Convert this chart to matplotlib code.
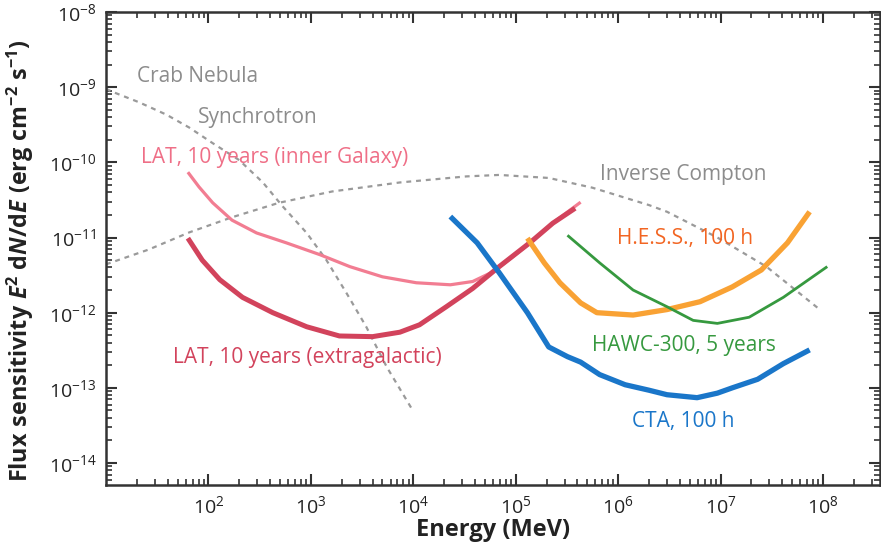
import matplotlib
matplotlib.use("Agg")
import matplotlib.pyplot as plt
from matplotlib.ticker import LogLocator, NullFormatter

plt.rcParams["font.family"] = ["Open Sans", "DejaVu Sans"]
plt.rcParams["mathtext.fontset"] = "custom"
plt.rcParams["mathtext.rm"] = "Open Sans"
plt.rcParams["mathtext.it"] = "Open Sans:italic"
plt.rcParams["mathtext.bf"] = "Open Sans:bold"
plt.rcParams["mathtext.bfit"] = "Open Sans:italic:bold"

# energies in MeV, flux sensitivity in erg cm^-2 s^-1
sync_e = [10, 11.5, 21, 39, 65, 110, 200, 340, 530, 910, 1420, 2240, 3470, 5500, 9800]
sync_f = [9.5e-10, 8.7e-10, 6.3e-10, 4.3e-10, 2.9e-10, 1.8e-10, 1.07e-10, 5.4e-11, 2.6e-11,
          1.15e-11, 5.0e-12, 1.8e-12, 6.5e-13, 1.9e-13, 5.1e-14]

ic_e = [10, 26, 65, 170, 490, 1620, 7400, 3.3e4, 6.9e4, 2.1e5, 5.6e5, 2.0e6, 3.0e6, 9.3e6,
        2.8e7, 9.3e7]
ic_f = [4.4e-12, 6.9e-12, 1.17e-11, 1.86e-11, 2.9e-11, 4.1e-11, 5.4e-11, 6.5e-11, 6.8e-11,
        6.2e-11, 4.6e-11, 2.7e-11, 2.2e-11, 1.0e-11, 4.1e-12, 1.1e-12]

lat_gal_e = [63, 81, 110, 170, 295, 575, 1230, 2400, 5000, 1.07e4, 2.3e4, 3.8e4, 6.0e4,
             9.3e4, 1.5e5, 2.5e5, 4.3e5]
lat_gal_f = [7.4e-11, 4.7e-11, 2.9e-11, 1.7e-11, 1.15e-11, 8.5e-12, 5.9e-12, 4.1e-12, 3.0e-12,
             2.5e-12, 2.35e-12, 2.6e-12, 3.5e-12, 5.5e-12, 9.3e-12, 1.7e-11, 2.95e-11]

lat_xgal_e = [63, 87, 129, 215, 425, 910, 1900, 4000, 7400, 1.15e4, 2.1e4, 3.8e4, 6.9e4,
              1.4e5, 2.3e5, 3.8e5]
lat_xgal_f = [9.8e-12, 5.0e-12, 2.75e-12, 1.6e-12, 1.0e-12, 6.5e-13, 4.9e-13, 4.8e-13, 5.5e-13,
              6.9e-13, 1.2e-12, 2.1e-12, 4.1e-12, 8.7e-12, 1.55e-11, 2.45e-11]

cta_e = [2.3e4, 4.2e4, 6.9e4, 1.3e5, 2.1e5, 3.2e5, 4.3e5, 6.6e5, 1.17e6, 2.0e6, 3.0e6, 5.9e6,
         9.3e6, 1.3e7, 2.3e7, 4.1e7, 7.4e7]
cta_f = [1.9e-11, 8.5e-12, 3.4e-12, 1.0e-12, 3.5e-13, 2.6e-13, 2.2e-13, 1.5e-13, 1.1e-13,
         9.3e-14, 8.1e-14, 7.4e-14, 8.5e-14, 1.0e-13, 1.3e-13, 2.1e-13, 3.2e-13]

hess_e = [1.3e5, 1.9e5, 2.7e5, 4.3e5, 6.2e5, 1.4e6, 3.0e6, 6.3e6, 1.3e7, 2.5e7, 4.5e7, 7.4e7]
hess_f = [9.8e-12, 4.6e-12, 2.5e-12, 1.35e-12, 1.0e-12, 9.3e-13, 1.1e-12, 1.4e-12, 2.2e-12,
          3.7e-12, 8.5e-12, 2.2e-11]

hawc_e = [3.2e5, 6.6e5, 1.4e6, 3.0e6, 5.4e6, 9.3e6, 1.9e7, 4.1e7, 1.1e8]
hawc_f = [1.07e-11, 4.6e-12, 2.0e-12, 1.2e-12, 7.9e-13, 7.2e-13, 8.7e-13, 1.6e-12, 4.1e-12]

gray = "#9a9a9a"
fig = plt.figure(figsize=(8.81, 5.48), dpi=100)
ax = fig.add_axes([106 / 881, 1 - 485 / 548, 774 / 881, 473 / 548])

dash = dict(color=gray, lw=1.6, ls=(0, (2.2, 2.2)))
ax.plot(sync_e, sync_f, **dash)
ax.plot(ic_e, ic_f, **dash)

ax.plot(lat_gal_e, lat_gal_f, color="#f27d92", lw=2.3, solid_capstyle="butt")
ax.plot(lat_xgal_e, lat_xgal_f, color="#d2435c", lw=3.6, solid_capstyle="butt")
ax.plot(cta_e, cta_f, color="#1a76c9", lw=3.8, solid_capstyle="butt")
ax.plot(hess_e, hess_f, color="#f9a234", lw=3.8, solid_capstyle="butt")
ax.plot(hawc_e, hawc_f, color="#36993f", lw=2.0, solid_capstyle="butt")

fs = 15
ax.text(20, 1.38e-9, "Crab Nebula", color="#8c8c8c", fontsize=fs, va="center")
ax.text(79, 4.0e-10, "Synchrotron", color="#8c8c8c", fontsize=fs, va="center")
ax.text(22, 1.17e-10, "LAT, 10 years (inner Galaxy)", color="#ef6f87", fontsize=fs, va="center")
ax.text(45, 2.5e-13, "LAT, 10 years (extragalactic)", color="#d2435c", fontsize=fs, va="center")
ax.text(6.6e5, 6.8e-11, "Inverse Compton", color="#8c8c8c", fontsize=fs, va="center")
ax.text(9.8e5, 9.8e-12, "H.E.S.S., 100 h", color="#f26522", fontsize=fs, va="center")
ax.text(5.5e5, 3.7e-13, "HAWC-300, 5 years", color="#36993f", fontsize=fs, va="center")
ax.text(1.35e6, 3.55e-14, "CTA, 100 h", color="#1a76c9", fontsize=fs, va="center")

ax.set_xscale("log")
ax.set_yscale("log")

ax.xaxis.set_minor_locator(LogLocator(base=10, subs=range(2, 10), numticks=20))
ax.yaxis.set_minor_locator(LogLocator(base=10, subs=range(2, 10), numticks=20))
ax.xaxis.set_minor_formatter(NullFormatter())
ax.yaxis.set_minor_formatter(NullFormatter())
ax.set_xticks([1e2, 1e3, 1e4, 1e5, 1e6, 1e7, 1e8])
ax.set_yticks([1e-14, 1e-13, 1e-12, 1e-11, 1e-10, 1e-9, 1e-8])
ax.set_xlim(10, 3.6e8)
ax.set_ylim(5.1e-15, 1e-8)

for side in ax.spines.values():
    side.set_linewidth(1.8)
    side.set_color("#333333")
ax.tick_params(which="both", direction="in", top=True, right=True, color="#333333",
               labelsize=14, labelcolor="#222222")
ax.tick_params(which="major", length=8, width=1.5, pad=7)
ax.tick_params(which="minor", length=4, width=1.2)

ax.set_xlabel("Energy (MeV)", fontsize=17, fontweight="bold", color="#222222")
ax.xaxis.set_label_coords(0.5, -0.07)
ax.set_ylabel(r"$\mathbf{Flux\ sensitivity}\ \mathbfit{E}^{\mathbf{2}}\ \mathbf{d}\mathbfit{N}"
              r"\mathbf{/d}\mathbfit{E}\ \mathbf{(erg\ cm^{-2}\ s^{-1})}$",
              fontsize=16.8, color="#222222")
ax.yaxis.set_label_coords(-0.091, 0.475)

fig.savefig("out.png", dpi=100)
